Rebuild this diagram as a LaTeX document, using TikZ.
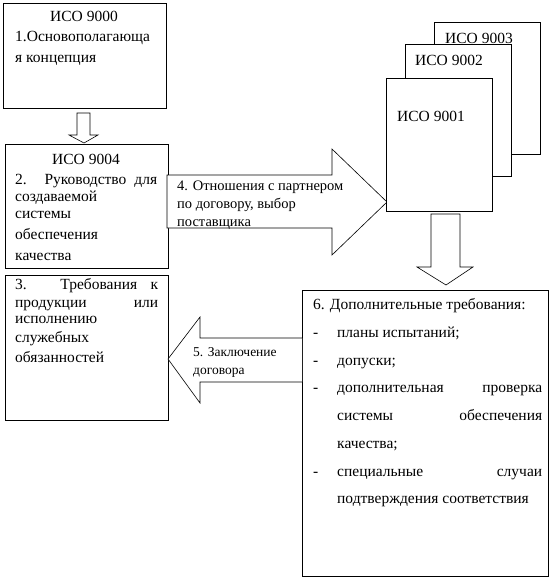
\documentclass[tikz,border=0pt]{standalone}
\usepackage{fontspec}
\setmainfont{Liberation Serif}
\newcommand\justline[2]{\makebox[#1pt][s]{#2}}
\begin{document}
\begin{tikzpicture}[x=1pt,y=-1pt,
  box/.style={draw, line width=0.9pt, fill=white, inner sep=0pt, anchor=north west},
  blk/.style={draw, line width=0.6pt, fill=white, line join=miter},
  txt/.style={anchor=base west, inner sep=0pt, font=\fontsize{15.5}{18}\selectfont},
  txtc/.style={anchor=base, inner sep=0pt, font=\fontsize{15.5}{18}\selectfont},
  sml/.style={anchor=base west, inner sep=0pt, font=\fontsize{14.5}{17}\selectfont},
  smaller/.style={anchor=base west, inner sep=0pt, font=\fontsize{13.5}{16}\selectfont}]
\useasboundingbox (0,0) rectangle (554,579);
\fill[white] (0,0) rectangle (554,579);

% box 1
\node[box, minimum width=163pt, minimum height=105pt] (b1) at (3,3) {};
\node[txtc] (t1a) at (84,21) {ИСО 9000};
\node[txt] (t1b) at (15,41) {1.Основополагающа};
\node[txt] (t1c) at (15,62) {я концепция};

% arrow 1 -> 2
\draw[blk] (77,113) -- (90,113) -- (90,135) -- (98,135) -- (84,143) -- (69,135) -- (77,135) -- cycle;

% box 2
\node[box, minimum width=163pt, minimum height=124pt] (b2) at (5,144) {};
\node[txtc] (t2a) at (86,164) {ИСО 9004};
\node[txt] (t2b) at (15,184) {\justline{142}{2. Руководство для}};
\node[txt] (t2c) at (15,201) {создаваемой};
\node[txt] (t2d) at (15,218) {системы};
\node[txt] (t2e) at (15,239) {обеспечения};
\node[txt] (t2f) at (15,260) {качества};

% box 3
\node[box, minimum width=163pt, minimum height=145pt] (b3) at (5,275) {};
\node[txt] (t3a) at (15,289) {\justline{143}{3. Требования к}};
\node[txt] (t3b) at (15,307) {\justline{143}{продукции или}};
\node[txt] (t3c) at (15,323) {исполнению};
\node[txt] (t3d) at (15,342) {служебных};
\node[txt] (t3e) at (15,362) {обязанностей};

% stacked ISO boxes
\node[box, minimum width=106pt, minimum height=132pt] (b9003) at (434,22) {};
\node[txt] (t9003) at (445,43) {ИСО 9003};
\node[box, minimum width=106pt, minimum height=132pt] (b9002) at (405,44) {};
\node[txt] (t9002) at (415,65) {ИСО 9002};

% arrow 2 -> 9001 (4)
\draw[blk] (167,175) -- (332,175) -- (332,149) -- (387,202) -- (332,255) -- (332,228) -- (167,228) -- cycle;
\node[sml] (t4a) at (177,190) {4. Отношения с партнером};
\node[sml] (t4b) at (177,208) {по договору, выбор};
\node[sml] (t4c) at (177,226) {поставщика};

\node[box, minimum width=106pt, minimum height=133pt] (b9001) at (386,78) {};
\node[txt] (t9001) at (397,121) {ИСО 9001};

% arrow 9001 -> 6
\draw[blk] (431,214) -- (460,214) -- (460,267) -- (473,267) -- (446,285) -- (417,267) -- (431,267) -- cycle;

% box 6
\node[box, minimum width=246pt, minimum height=286pt] (b6) at (302,290) {};
\node[txt] (t6a) at (313,309) {6. Дополнительные требования:};
\node[txt] (d6a) at (313,337) {-};
\node[txt] (t6b) at (337,337) {планы испытаний;};
\node[txt] (d6b) at (313,365) {-};
\node[txt] (t6c) at (337,365) {допуски;};
\node[txt] (d6c) at (313,392) {-};
\node[txt] (t6d) at (337,392) {\justline{205}{дополнительная проверка}};
\node[txt] (t6e) at (337,420) {\justline{205}{системы обеспечения}};
\node[txt] (t6f) at (337,448) {качества;};
\node[txt] (d6d) at (313,476) {-};
\node[txt] (t6g) at (337,476) {\justline{205}{специальные случаи}};
\node[txt] (t6h) at (337,503) {подтверждения соответствия};

% arrow 6 -> 3 (5)
\draw[blk] (302,338) -- (200,338) -- (200,317) -- (168,359) -- (200,403) -- (200,382) -- (302,382);
\node[smaller] (t5a) at (193,356) {5. Заключение};
\node[smaller] (t5b) at (193,374) {договора};
\end{tikzpicture}
\end{document}
